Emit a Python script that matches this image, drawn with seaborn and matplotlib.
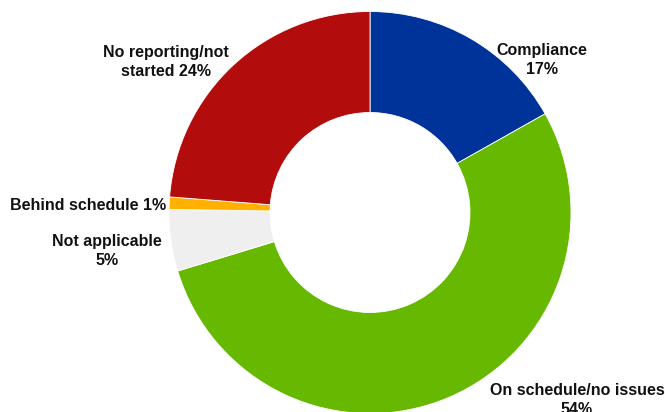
import matplotlib
matplotlib.use("Agg")
import matplotlib.pyplot as plt
import seaborn as sns

categories = ["Compliance", "On schedule/no issues", "Not applicable",
              "Behind schedule", "No reporting/not started"]
shares = [17, 54, 5, 1, 24]
label_texts = ["Compliance\n17%", "On schedule/no issues\n54%", "Not applicable\n5%",
               "Behind schedule 1%", "No reporting/not\nstarted 24%"]
colors = ["#003399", "#66b800", "#efefef", "#ffb000", "#b30c0c"]

sns.set_theme(style="white")
plt.rcParams["font.family"] = ["Liberation Sans", "DejaVu Sans"]

fig = plt.figure(figsize=(6.65, 4.12), dpi=100)
ax = fig.add_axes([0, 0, 1, 1])

cx, cy, r_out, r_in = 370, 412 - 212.5, 201, 100
ax.pie(shares, colors=colors, startangle=90, counterclock=False,
       center=(cx, cy), radius=r_out, frame=True,
       wedgeprops=dict(width=r_out - r_in, edgecolor="white", linewidth=0.6))
ax.set_xlim(0, 665)
ax.set_ylim(0, 412)
ax.set_aspect("equal")
ax.axis("off")

# label anchors (pixel positions, y measured from top)
label_pos = [(542, 60, "center"), (577, 400, "center"), (107, 251, "center"),
             (166, 205, "right"), (166, 62, "center")]
for txt, (x, y, ha) in zip(label_texts, label_pos):
    ax.text(x, 412 - y, txt, ha=ha, va="center", fontsize=11.5,
            fontweight="bold", color="#111111", linespacing=1.3,
            multialignment="center")

fig.savefig("out.png", dpi=100)
